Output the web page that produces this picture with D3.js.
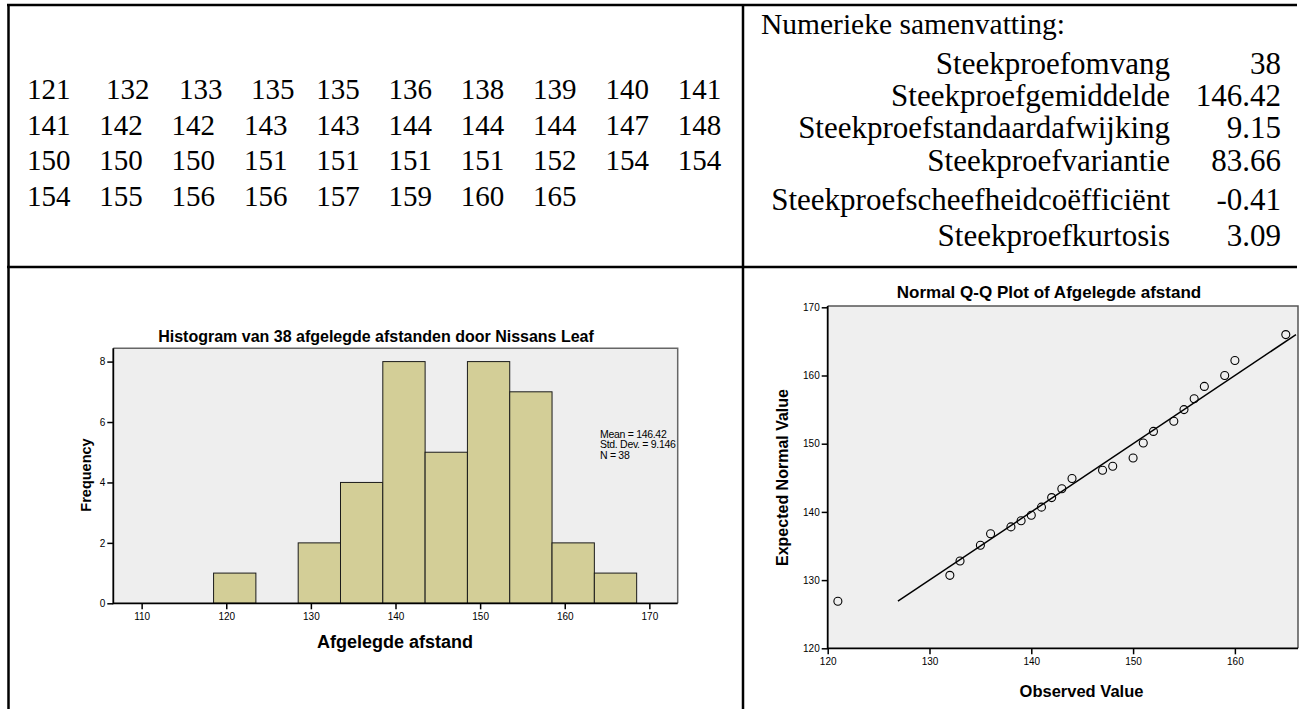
<!DOCTYPE html>
<html><head><meta charset="utf-8">
<script src="https://cdn.jsdelivr.net/npm/d3@7"></script>
<style>body{margin:0;background:#fff;} svg{display:block;}</style>
</head><body>
<svg id="c" width="1300" height="709"></svg>
<script>
// ---------- data ----------
const distances = [121,132,133,135,135,136,138,139,140,141,
                   141,142,142,143,143,144,144,144,147,148,
                   150,150,150,151,151,151,151,152,154,154,
                   154,155,156,156,157,159,160,165];
const summaryTitle = "Numerieke samenvatting:";
const summaryLabels = ["Steekproefomvang","Steekproefgemiddelde","Steekproefstandaardafwijking",
                       "Steekproefvariantie","Steekproefscheefheidcoëfficiënt","Steekproefkurtosis"];
const summaryValues = ["38","146.42","9.15","83.66","-0.41","3.09"];

const histTitle = "Histogram van 38 afgelegde afstanden door Nissans Leaf";
const binLower  = [118.5,123.5,128.5,133.5,138.5,143.5,148.5,153.5,158.5,163.5];
const binCounts = [1,0,2,4,8,5,8,7,2,1];
const binWidth = 5;
const histXTicks = [110,120,130,140,150,160,170];
const histYTicks = [0,2,4,6,8];
const histStats = ["Mean = 146.42","Std. Dev. = 9.146","N = 38"];

const qqTitle = "Normal Q-Q Plot of Afgelegde afstand";
const qqObserved = [121,132,133,135,136,138,139,140,141,142,143,144,147,148,150,151,152,154,155,156,157,159,160,165];
const qqExpected = [126.9,130.7,132.8,135.1,136.8,137.8,138.7,139.5,140.7,142.1,143.4,144.9,146.1,146.7,147.9,150.1,151.8,153.3,155.0,156.6,158.4,160.0,162.2,166.0];
const qqLine = [126.9,166.0];
const qqXTicks = [120,130,140,150,160];
const qqYTicks = [120,130,140,150,160,170];

// ---------- drawing ----------
(function(){
const svg = d3.select("#c");
const SERIF = "'Liberation Serif','Times New Roman',serif";
const SANS = "Arial,'Liberation Sans',sans-serif";

// table frame
const tbl = svg.append("g").attr("stroke","#000").attr("stroke-width",2.5);
tbl.append("line").attr("x1",8.5).attr("x2",8.5).attr("y1",4).attr("y2",709);
tbl.append("line").attr("x1",7).attr("x2",1297).attr("y1",5).attr("y2",5);
tbl.append("line").attr("x1",743).attr("x2",743).attr("y1",4).attr("y2",709);
tbl.append("line").attr("x1",7).attr("x2",1297).attr("y1",267).attr("y2",267);

// left cell: numbers
const colX = i => 27 + i*72.3;
const row1X = [27,106,179,251];
const perRow = 10;
svg.append("g").attr("font-family",SERIF).attr("font-size",29).attr("fill","#000")
  .selectAll("text").data(distances).join("text")
  .attr("x",(d,i)=>{const r=Math.floor(i/perRow), c=i%perRow; return (r===0 && c<row1X.length)? row1X[c] : colX(c);})
  .attr("y",(d,i)=>99 + Math.floor(i/perRow)*35.5)
  .text(d=>d);

// right cell: summary
const sg = svg.append("g").attr("font-family",SERIF).attr("fill","#000");
sg.append("text").attr("x",761).attr("y",34).attr("font-size",29.5).text(summaryTitle);
const rowY = [74,106,138,171,210,246];
sg.selectAll("text.lab").data(summaryLabels).join("text").attr("class","lab")
  .attr("font-size",31)
  .attr("x",1170).attr("y",(d,i)=>rowY[i]).attr("text-anchor","end").text(d=>d);
sg.selectAll("text.val").data(summaryValues).join("text").attr("class","val")
  .attr("font-size",31)
  .attr("x",1281).attr("y",(d,i)=>rowY[i]).attr("text-anchor","end").text(d=>d);

// ---------- histogram ----------
const xH = d3.scaleLinear().domain([106.65,173.35]).range([113.3,677.7]);
const yH = d3.scaleLinear().domain([0,8.44]).range([603.3,348.3]);
const hg = svg.append("g");
hg.append("rect").attr("x",xH.range()[0]).attr("y",yH.range()[1])
  .attr("width",xH.range()[1]-xH.range()[0]).attr("height",yH.range()[0]-yH.range()[1]).attr("fill","#eeeeee");
hg.selectAll("rect.bar").data(binLower.map((b,i)=>({lo:b,c:binCounts[i]})).filter(d=>d.c>0)).join("rect")
  .attr("class","bar")
  .attr("x",d=>xH(d.lo)).attr("width",d=>xH(d.lo+binWidth)-xH(d.lo))
  .attr("y",d=>yH(d.c)).attr("height",d=>yH(0)-yH(d.c))
  .attr("fill","#d3ce97").attr("stroke","#1a1a1a").attr("stroke-width",1);
hg.append("path").attr("d",`M${xH.range()[0]},${yH.range()[1]}H${xH.range()[1]}V${yH.range()[0]}`)
  .attr("fill","none").attr("stroke","#666").attr("stroke-width",1.5);
const axH = hg.append("g").attr("transform",`translate(0,${yH(0)})`)
  .call(d3.axisBottom(xH).tickValues(histXTicks).tickSize(6).tickPadding(4).tickFormat(d3.format("d")));
const ayH = hg.append("g").attr("transform",`translate(${xH.range()[0]},0)`)
  .call(d3.axisLeft(yH).tickValues(histYTicks).tickSize(6).tickPadding(2).tickFormat(d3.format("d")));
[axH,ayH].forEach(a=>{a.select(".domain").remove(); a.selectAll("text").attr("font-family",SANS).attr("font-size",10).attr("fill","#000");
  a.selectAll("line").attr("stroke","#000").attr("stroke-width",1.5);});
hg.append("path").attr("d",`M${xH.range()[0]},${yH.range()[1]}V${yH.range()[0]}H${xH.range()[1]}`)
  .attr("fill","none").attr("stroke","#000").attr("stroke-width",1.8);
hg.append("text").attr("x",376).attr("y",341.5).attr("text-anchor","middle")
  .attr("font-family",SANS).attr("font-weight","bold").attr("font-size",16).text(histTitle);
hg.append("text").attr("x",395).attr("y",648).attr("text-anchor","middle")
  .attr("font-family",SANS).attr("font-weight","bold").attr("font-size",18).text("Afgelegde afstand");
hg.append("text").attr("transform","translate(91,475) rotate(-90)").attr("text-anchor","middle")
  .attr("font-family",SANS).attr("font-weight","bold").attr("font-size",14.5).text("Frequency");
hg.append("g").attr("font-family",SANS).attr("font-size",10.5).attr("letter-spacing",-0.3)
  .selectAll("text").data(histStats).join("text")
  .attr("x",600).attr("y",(d,i)=>437.7+i*10.4).text(d=>d);

// ---------- Q-Q plot ----------
const xQ = d3.scaleLinear().domain([120,166.2]).range([827.7,1298]);
const yQ = d3.scaleLinear().domain([120,170]).range([648.3,307.3]);
const qg = svg.append("g");
const qTop = yQ(170.2);
qg.append("rect").attr("x",xQ(120)).attr("y",qTop).attr("width",xQ.range()[1]-xQ(120))
  .attr("height",yQ(120)-qTop).attr("fill","#efefef");
qg.append("path").attr("d",`M${xQ(120)},${qTop}H${xQ.range()[1]}V${yQ(120)}`)
  .attr("fill","none").attr("stroke","#555").attr("stroke-width",1.5);
qg.append("line").attr("x1",xQ(qqLine[0])).attr("y1",yQ(qqLine[0]))
  .attr("x2",xQ(qqLine[1])).attr("y2",yQ(qqLine[1])).attr("stroke","#000").attr("stroke-width",1.5);
qg.selectAll("circle").data(qqObserved.map((o,i)=>[o,qqExpected[i]])).join("circle")
  .attr("cx",d=>xQ(d[0])).attr("cy",d=>yQ(d[1])).attr("r",4)
  .attr("fill","none").attr("stroke","#000").attr("stroke-width",1.1);
const axQ = qg.append("g").attr("transform",`translate(0,${yQ(120)})`)
  .call(d3.axisBottom(xQ).tickValues(qqXTicks).tickSize(6).tickPadding(4).tickFormat(d3.format("d")));
const ayQ = qg.append("g").attr("transform",`translate(${xQ(120)},0)`)
  .call(d3.axisLeft(yQ).tickValues(qqYTicks).tickSize(6).tickPadding(2).tickFormat(d3.format("d")));
[axQ,ayQ].forEach(a=>{a.select(".domain").remove(); a.selectAll("text").attr("font-family",SANS).attr("font-size",10).attr("fill","#000");
  a.selectAll("line").attr("stroke","#000").attr("stroke-width",1.5);});
qg.append("path").attr("d",`M${xQ(120)},${qTop}V${yQ(120)}H${xQ.range()[1]}`)
  .attr("fill","none").attr("stroke","#000").attr("stroke-width",1.8);
qg.append("text").attr("x",1049).attr("y",298.3).attr("text-anchor","middle")
  .attr("font-family",SANS).attr("font-weight","bold").attr("font-size",17).text(qqTitle);
qg.append("text").attr("x",1081.5).attr("y",696.5).attr("text-anchor","middle")
  .attr("font-family",SANS).attr("font-weight","bold").attr("font-size",16.5).text("Observed Value");
qg.append("text").attr("transform","translate(788,477.5) rotate(-90)").attr("text-anchor","middle")
  .attr("font-family",SANS).attr("font-weight","bold").attr("font-size",16).text("Expected Normal Value");
})();
</script>
</body></html>
